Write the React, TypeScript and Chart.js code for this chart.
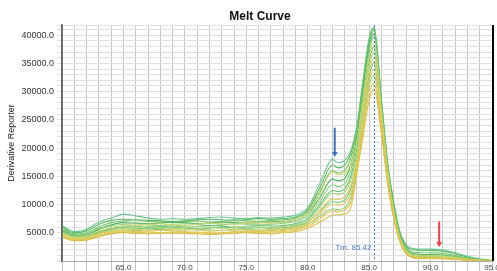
import React, { useEffect, useRef } from "react";
import { Chart, registerables } from "chart.js";

Chart.register(...registerables);

const TITLE = "Melt Curve";
const Y_TITLE = "Derivative Reporter";
const TM_VALUE = 85.42;
const TM_LABEL = "Tm: 85.42";
const X_MIN = 60;
const X_MAX = 95;
const Y_MIN = 0;
const Y_MAX = 41800;
const Y_GRID_STEP = 1000;
const Y_LABEL_STEP = 5000;

// temperature points (°C)
const TEMPS = [60, 61, 62, 63, 64, 65, 66, 67, 68, 69, 70, 71, 72, 73, 74, 75, 76, 77, 78, 79, 80, 81, 82, 82.5, 83, 83.5, 84, 84.5, 85, 85.4, 86, 86.5, 87, 87.5, 88, 88.5, 89, 90, 91, 92, 93, 94, 95];

const S1 = [6300, 5200, 5600, 6900, 7600, 8300, 8000, 7600, 7400, 7500, 7400, 7500, 7700, 7800, 7600, 7500, 7700, 7600, 7800, 8100, 9400, 13800, 18000, 17400, 17800, 19500, 24000, 32000, 39500, 41500, 28500, 17500, 10500, 5200, 2900, 2250, 2100, 2100, 2000, 1450, 850, 380, 100];
const S2 = [6000, 5000, 5300, 6500, 7200, 7400, 7300, 7200, 7100, 7000, 7100, 7300, 7400, 7300, 7200, 7300, 7500, 7400, 7500, 7800, 9000, 13000, 17000, 16500, 17000, 19000, 23500, 31500, 39000, 41200, 28500, 17500, 10200, 5000, 2600, 2000, 1900, 1850, 1750, 1250, 700, 300, 80];
const S3 = [5800, 4800, 5000, 6000, 6800, 7100, 7300, 7000, 6900, 6800, 7000, 7100, 6900, 7000, 7300, 7100, 7000, 7200, 7300, 7600, 8700, 12300, 16000, 15600, 16000, 18200, 23000, 31000, 38500, 40800, 28000, 17000, 9800, 4700, 2300, 1600, 1500, 1450, 1350, 950, 550, 250, 60];
const S4 = [5600, 4600, 4700, 5600, 6400, 6800, 6700, 6600, 6700, 6900, 6800, 6600, 6700, 6900, 6800, 6700, 6800, 6900, 7000, 7300, 8300, 11300, 14500, 14200, 14600, 17000, 22000, 30000, 37800, 40300, 27500, 16800, 9500, 4500, 2100, 1350, 1200, 1150, 1050, 750, 450, 200, 50];
const S5 = [5400, 4500, 4800, 5800, 6200, 6500, 6600, 6400, 6300, 6500, 6600, 6500, 6300, 6400, 6600, 6500, 6400, 6500, 6700, 7000, 7900, 10600, 13500, 13200, 13700, 16000, 21000, 29000, 37000, 39800, 27000, 16500, 9200, 4300, 1900, 1150, 1000, 950, 900, 650, 380, 170, 40];
const S6 = [5000, 4200, 4400, 5300, 5900, 6200, 6300, 6500, 6600, 6400, 6300, 6500, 6700, 6600, 6500, 6700, 6800, 6700, 6900, 7300, 8400, 12000, 15800, 15300, 15500, 17000, 21000, 28500, 36000, 38800, 26500, 16000, 9000, 4200, 1900, 1100, 950, 900, 850, 600, 350, 150, 40];
const S7 = [5300, 4400, 4500, 5200, 5800, 6100, 6200, 6000, 6100, 6200, 6000, 6100, 6300, 6200, 6000, 6100, 6300, 6200, 6300, 6600, 7500, 10000, 12500, 12300, 12800, 15000, 20000, 28000, 35500, 38000, 26000, 16000, 9000, 4200, 1800, 1000, 850, 800, 750, 550, 320, 140, 30];
const S8 = [5100, 4300, 4300, 5000, 5500, 5800, 5900, 6100, 6000, 5800, 5900, 6100, 6000, 5800, 5900, 6100, 6000, 5900, 6100, 6400, 7200, 9600, 12000, 11800, 12200, 14300, 19000, 27000, 34500, 37000, 25500, 15500, 8700, 4000, 1700, 900, 750, 700, 650, 450, 280, 120, 30];
const S9 = [4700, 4000, 4100, 4800, 5300, 5500, 5600, 5500, 5400, 5600, 5700, 5500, 5300, 5400, 5600, 5500, 5400, 5600, 5700, 6000, 6800, 8900, 11000, 10900, 11300, 13300, 18000, 26000, 33500, 36000, 25000, 15000, 8400, 3900, 1600, 850, 700, 650, 600, 420, 250, 110, 30];
const S10 = [5200, 4400, 4400, 5100, 5600, 5900, 5800, 5700, 5800, 5900, 5800, 5700, 5800, 6000, 5900, 5800, 5900, 5800, 5900, 6200, 6900, 8800, 10500, 10400, 10800, 12800, 17500, 25500, 32800, 35000, 24500, 14800, 8200, 3800, 1500, 800, 650, 600, 550, 400, 230, 100, 30];
const S11 = [4500, 3800, 3900, 4600, 5100, 5300, 5200, 5300, 5400, 5300, 5200, 5100, 4900, 5000, 5200, 5300, 5200, 5300, 5400, 5700, 6400, 8300, 10000, 9900, 10200, 12000, 16800, 24500, 31800, 34000, 24000, 14500, 8000, 3700, 1450, 750, 600, 550, 500, 350, 200, 90, 20];
const S12 = [4900, 4100, 4200, 4900, 5300, 5500, 5400, 5500, 5600, 5500, 5500, 5600, 5500, 5400, 5500, 5600, 5500, 5400, 5600, 5900, 6500, 7900, 9200, 9100, 9400, 11200, 16200, 24000, 31000, 33000, 23500, 14200, 7800, 3600, 1400, 700, 550, 500, 450, 320, 180, 80, 20];
const S13 = [4400, 3700, 3800, 4400, 4900, 5100, 5000, 5100, 5000, 4900, 5000, 5100, 5000, 4900, 5000, 5100, 5000, 5100, 5200, 5500, 6100, 7500, 8800, 8700, 9000, 10500, 15800, 23000, 29800, 31500, 23000, 14000, 7700, 3500, 1350, 650, 520, 480, 430, 300, 170, 70, 20];
const S14 = [4200, 3600, 3700, 4300, 4800, 5000, 4900, 4800, 4900, 5000, 4900, 4800, 4700, 4800, 4900, 5000, 4900, 4800, 5000, 5200, 5800, 6900, 8100, 8200, 8300, 9400, 15500, 22000, 28500, 30500, 22500, 13800, 7600, 3400, 1300, 600, 480, 450, 400, 280, 150, 60, 20];

const SERIES = [S14, S13, S11, S9, S6, S12, S8, S10, S7, S5, S4, S3, S2, S1];
const SERIES_COLORS = [
  "#d8c04a", "#e3c550", "#e0c95a", "#d9cf5e", "#cdd66c", "#98ce72", "#a8d47c",
  "#6fc474", "#5fbf6a", "#8ccf80", "#4db258", "#7cc86e", "#5cb85c", "#6cc596",
];

// annotation arrows: [x, yFrom, yTo]
const BLUE_ARROW = [82.2, 23600, 18400];
const RED_ARROW = [90.7, 7000, 2500];

function drawArrow(ctx: CanvasRenderingContext2D, x: number, y1: number, y2: number, color: string) {
  ctx.save();
  ctx.strokeStyle = color;
  ctx.fillStyle = color;
  ctx.lineWidth = 2;
  ctx.beginPath();
  ctx.moveTo(x, y1);
  ctx.lineTo(x, y2 - 4);
  ctx.stroke();
  ctx.beginPath();
  ctx.moveTo(x - 3, y2 - 5);
  ctx.lineTo(x + 3, y2 - 5);
  ctx.lineTo(x, y2);
  ctx.closePath();
  ctx.fill();
  ctx.restore();
}

const overlayPlugin = {
  id: "overlay",
  afterDatasetsDraw(chart: any) {
    const { ctx, chartArea, scales } = chart;
    const xs = scales.x;
    const ys = scales.y;
    const tx = Math.round(xs.getPixelForValue(TM_VALUE)) + 0.5;
    ctx.save();
    ctx.strokeStyle = "#4f7fc4";
    ctx.lineWidth = 1;
    ctx.setLineDash([2, 2]);
    ctx.beginPath();
    ctx.moveTo(tx, chartArea.top);
    ctx.lineTo(tx, chartArea.bottom);
    ctx.stroke();
    ctx.setLineDash([]);
    ctx.fillStyle = "#4f7fc4";
    ctx.font = "8px Arial, 'Liberation Sans', sans-serif";
    ctx.textAlign = "right";
    ctx.textBaseline = "alphabetic";
    ctx.fillText(TM_LABEL, tx - 3, chartArea.bottom - 11.5);
    ctx.restore();
    drawArrow(ctx, xs.getPixelForValue(BLUE_ARROW[0]), ys.getPixelForValue(BLUE_ARROW[1]), ys.getPixelForValue(BLUE_ARROW[2]), "#3f70b8");
    drawArrow(ctx, xs.getPixelForValue(RED_ARROW[0]), ys.getPixelForValue(RED_ARROW[1]), ys.getPixelForValue(RED_ARROW[2]), "#ee4048");
  },
  afterDraw(chart: any) {
    const { ctx, chartArea } = chart;
    ctx.save();
    ctx.strokeStyle = "#000";
    ctx.lineWidth = 2;
    ctx.beginPath();
    ctx.moveTo(chartArea.right + 1, chartArea.top);
    ctx.lineTo(chartArea.right + 1, chartArea.bottom);
    ctx.stroke();
    ctx.strokeStyle = "#666";
    ctx.lineWidth = 1.5;
    ctx.beginPath();
    ctx.moveTo(chartArea.left, chartArea.top);
    ctx.lineTo(chartArea.left, chartArea.bottom);
    ctx.stroke();
    ctx.fillStyle = "#111";
    ctx.font = "bold 12px Arial, 'Liberation Sans', sans-serif";
    ctx.textAlign = "center";
    ctx.textBaseline = "alphabetic";
    ctx.fillText(TITLE, 260, 19.5);
    ctx.restore();
  },
};

export default function App() {
  const ref = useRef<HTMLCanvasElement | null>(null);
  useEffect(() => {
    document.body.style.margin = "0";
    if (!ref.current) return;
    const datasets = SERIES.map((vals, i) => ({
      label: "Well " + (i + 1),
      data: vals.map((v, j) => ({ x: TEMPS[j], y: v })),
      borderColor: SERIES_COLORS[i],
      backgroundColor: SERIES_COLORS[i],
      borderWidth: 1.1,
      pointRadius: 0,
      fill: false,
      cubicInterpolationMode: "monotone" as const,
    }));
    const chart = new Chart(ref.current, {
      type: "line",
      data: { datasets },
      options: {
        animation: false,
        responsive: true,
        maintainAspectRatio: false,
        devicePixelRatio: 1,
        layout: { padding: { top: 25, right: 5, left: 0, bottom: 0 } },
        plugins: { legend: { display: false }, title: { display: false }, tooltip: { enabled: false } },
        scales: {
          x: {
            type: "linear",
            min: X_MIN,
            max: X_MAX,
            ticks: {
              stepSize: 1,
              autoSkip: false,
              maxRotation: 0,
              padding: -8,
              color: "#444",
              font: { size: 8, family: "Arial, 'Liberation Sans', sans-serif" },
              callback: (v: any) => (v % 5 === 0 && v > X_MIN ? Number(v).toFixed(1) : ""),
            },
            grid: { color: "#c6c6c6", tickLength: 10, lineWidth: 1 },
            border: { color: "#aaa" },
            afterFit: (s: any) => {
              s.height = 10;
              s.paddingLeft = 0;
              s.paddingRight = 0;
            },
          },
          y: {
            min: Y_MIN,
            max: Y_MAX,
            afterBuildTicks: (s: any) => {
              const t = [];
              for (let v = Y_MIN; v <= Y_MAX; v += Y_GRID_STEP) t.push({ value: v });
              t.push({ value: Y_MAX });
              s.ticks = t;
            },
            ticks: {
              autoSkip: false,
              padding: 3,
              color: "#333",
              font: { size: 9, family: "Arial, 'Liberation Sans', sans-serif" },
              callback: (v: any) => (v % Y_LABEL_STEP === 0 && v > 0 ? Number(v).toFixed(1) : ""),
            },
            grid: { color: "#e0e0e0", tickLength: 5, lineWidth: 1 },
            border: { color: "#666", width: 1.5 },
            title: {
              display: true,
              text: Y_TITLE,
              color: "#222",
              font: { size: 9, family: "Arial, 'Liberation Sans', sans-serif" },
              padding: { top: 6.5, bottom: 0 },
            },
            afterFit: (s: any) => {
              s.width = 62;
              s.paddingTop = 0;
              s.paddingBottom = 0;
            },
          },
        },
      },
      plugins: [overlayPlugin],
    });
    return () => chart.destroy();
  }, []);
  return (
    <div style={{ position: "relative", width: 497, height: 271 }}>
      <canvas ref={ref} />
    </div>
  );
}
